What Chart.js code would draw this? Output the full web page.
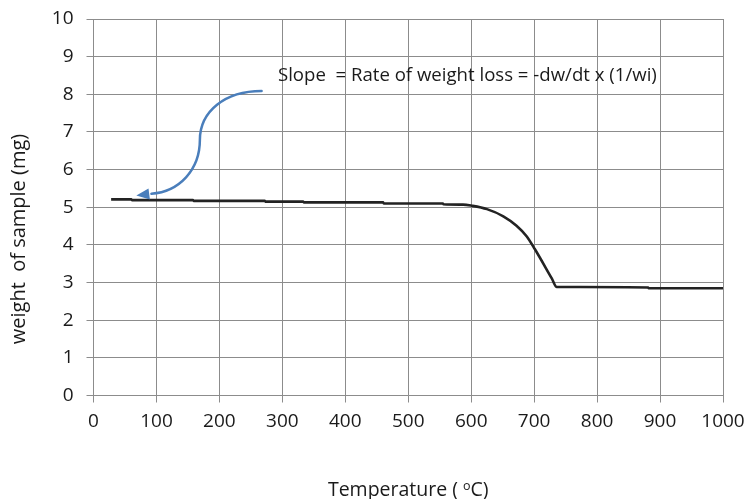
<!DOCTYPE html>
<html>
<head>
<meta charset="utf-8">
<script src="https://cdn.jsdelivr.net/npm/chart.js@4/dist/chart.umd.min.js"></script>
<style>
  html, body { margin: 0; padding: 0; background: #fff; }
  #wrap { width: 750px; height: 499px; }
</style>
</head>
<body>
<div id="wrap"><canvas id="tga"></canvas></div>
<script>
// Temperature (°C) and sample weight (mg)
const temperatures = [28, 60, 61, 158, 159, 272, 273, 333, 334, 460, 461, 555, 556, 587,
    601, 625, 651, 672, 688, 701, 728, 736, 773, 881, 882, 1000];
const weights = [5.21, 5.21, 5.19, 5.19, 5.17, 5.17, 5.15, 5.15, 5.13, 5.13, 5.10, 5.10, 5.08, 5.07,
    5.04, 4.95, 4.76, 4.51, 4.23, 3.89, 3.11, 2.88, 2.88, 2.87, 2.85, 2.85];

const xTicks = [0, 100, 200, 300, 400, 500, 600, 700, 800, 900, 1000];
const yTicks = [0, 1, 2, 3, 4, 5, 6, 7, 8, 9, 10];

const xTitle = 'Temperature ( ';
const yTitle = 'weight  of sample (mg)';
const noteText = 'Slope  = Rate of weight loss = -dw/dt x (1/wi)';

// arrow path in data units: start, two cubic segments, then the tip
const arrowPath = [
    [267, 8.09],
    [209, 8.09], [169, 7.55], [169, 6.79],
    [169, 5.99], [136, 5.41], [92, 5.36]
];
const arrowTip = [68, 5.31];

const FONT = '"Open Sans", "DejaVu Sans", sans-serif';
const GRID = '#8c8c8c';
const INK = '#1a1a1a';

const decorations = {
    id: 'decorations',
    afterDraw(chart) {
        const ctx = chart.ctx;
        const xs = chart.scales.x, ys = chart.scales.y;
        const px = p => [xs.getPixelForValue(p[0]), ys.getPixelForValue(p[1])];
        ctx.save();

        // annotation text
        ctx.fillStyle = INK;
        ctx.font = '18.6px ' + FONT;
        ctx.textBaseline = 'alphabetic';
        ctx.textAlign = 'left';
        const tStart = px([293, 8.35]);
        ctx.fillText(noteText, tStart[0], tStart[1]);

        // blue curved arrow
        const pts = arrowPath.map(px);
        ctx.strokeStyle = '#4a7ebb';
        ctx.lineWidth = 2.5;
        ctx.lineCap = 'round';
        ctx.beginPath();
        ctx.moveTo(pts[0][0], pts[0][1]);
        ctx.bezierCurveTo(pts[1][0], pts[1][1], pts[2][0], pts[2][1], pts[3][0], pts[3][1]);
        ctx.bezierCurveTo(pts[4][0], pts[4][1], pts[5][0], pts[5][1], pts[6][0], pts[6][1]);
        ctx.stroke();

        const tip = px(arrowTip);
        const end = pts[6];
        const ang = Math.atan2(tip[1] - end[1], tip[0] - end[0]);
        const len = 13, half = 5.5;
        const bx = tip[0] - len * Math.cos(ang), by = tip[1] - len * Math.sin(ang);
        ctx.fillStyle = '#4a7ebb';
        ctx.beginPath();
        ctx.moveTo(tip[0], tip[1]);
        ctx.lineTo(bx + half * Math.sin(ang), by - half * Math.cos(ang));
        ctx.lineTo(bx - half * Math.sin(ang), by + half * Math.cos(ang));
        ctx.closePath();
        ctx.fill();

        // axis titles
        ctx.fillStyle = INK;
        const big = '19.5px ' + FONT, small = '12.5px ' + FONT;
        ctx.font = big;
        const cx = (chart.chartArea.left + chart.chartArea.right) / 2;
        const w1 = ctx.measureText(xTitle).width;
        const w3 = ctx.measureText('C)').width;
        ctx.font = small;
        const w2 = ctx.measureText('o').width;
        const x0 = cx - (w1 + w2 + w3) / 2;
        const base = 496;
        ctx.font = big;
        ctx.fillText(xTitle, x0, base);
        ctx.fillText('C)', x0 + w1 + w2, base);
        ctx.font = small;
        ctx.fillText('o', x0 + w1, base - 6);

        ctx.font = '20px ' + FONT;
        ctx.translate(25, 239);
        ctx.rotate(-Math.PI / 2);
        ctx.textAlign = 'center';
        ctx.fillText(yTitle, 0, 0);
        ctx.restore();
    }
};

// drop the label overhang so the plot area sits where the padding puts it
function noOverhang(s) {
    s.paddingLeft = 0;
    s.paddingRight = 0;
    s.paddingTop = 0;
    s.paddingBottom = 0;
}

new Chart(document.getElementById('tga'), {
    type: 'line',
    data: {
        datasets: [{
            data: temperatures.map((t, i) => ({ x: t, y: weights[i] })),
            borderColor: '#232323',
            borderWidth: 2.6,
            pointRadius: 0,
            cubicInterpolationMode: 'monotone',
            fill: false
        }]
    },
    options: {
        responsive: true,
        maintainAspectRatio: false,
        animation: false,
        layout: { padding: { left: 0, top: 19, right: 27, bottom: 0 } },
        plugins: { legend: { display: false }, tooltip: { enabled: false } },
        scales: {
            x: {
                type: 'linear',
                min: 0, max: 1000,
                afterBuildTicks: s => { s.ticks = xTicks.map(v => ({ value: v })); },
                afterFit: s => { s.height = 103.5; noOverhang(s); },
                grid: { color: GRID, lineWidth: 1, tickLength: 7, tickColor: GRID },
                border: { color: GRID, width: 1 },
                ticks: {
                    color: INK, padding: 8, maxRotation: 0,
                    font: { family: FONT, size: 19 },
                    callback: v => String(v)
                }
            },
            y: {
                min: 0, max: 10,
                afterBuildTicks: s => { s.ticks = yTicks.map(v => ({ value: v })); },
                afterFit: s => { s.width = 93.5; noOverhang(s); },
                grid: { color: GRID, lineWidth: 1, tickLength: 7, tickColor: GRID },
                border: { color: GRID, width: 1 },
                ticks: { color: INK, padding: 13, font: { family: FONT, size: 19 } }
            }
        }
    },
    plugins: [decorations]
});
</script>
</body>
</html>
